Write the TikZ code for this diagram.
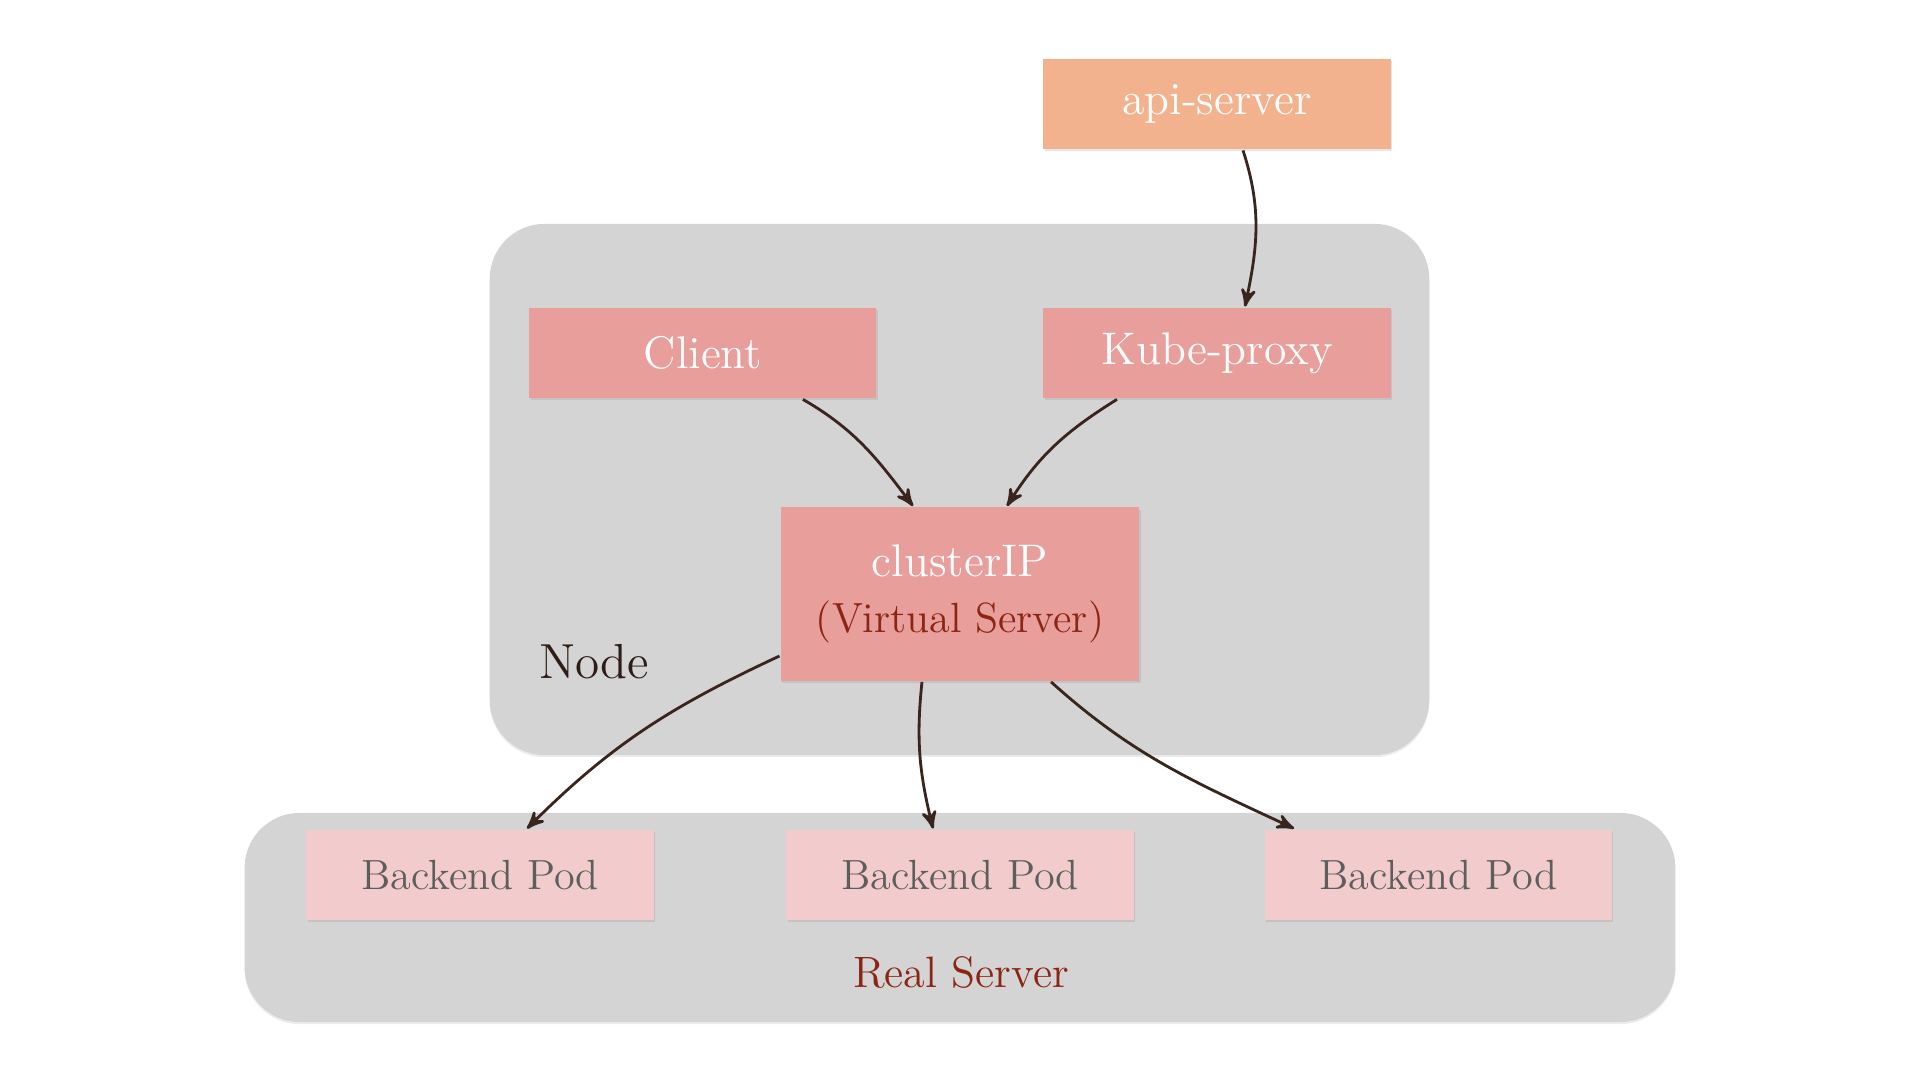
\documentclass[tikz,border=0pt]{standalone}
\usepackage{tikz}
\usetikzlibrary{arrows,positioning,shadows}

\definecolor{apifill}{HTML}{F2B28E}
\definecolor{boxfill}{HTML}{E89E9B}
\definecolor{podfill}{HTML}{F2CCCC}
\definecolor{areafill}{HTML}{D4D4D4}
\definecolor{arrowcol}{HTML}{3A241E}
\definecolor{darkred}{HTML}{8B2514}
\definecolor{podtext}{HTML}{5E5E5E}
\definecolor{labeltext}{HTML}{2E1D17}

\begin{document}
\begin{tikzpicture}[x=0.01cm,y=0.01cm,->,>=stealth',line width=0.8pt,color=arrowcol]
  \tikzstyle{area}=[draw=none,fill=areafill,rounded corners=0.55cm,drop shadow={shadow xshift=0pt,shadow yshift=-0.6pt,opacity=0.15}]
  \tikzstyle{box}=[draw=none,fill=boxfill,text=white,minimum width=3.47cm,minimum height=0.9cm,font=\fontsize{13}{15}\selectfont,drop shadow={shadow xshift=0.4pt,shadow yshift=-0.6pt,opacity=0.2}]
  \tikzstyle{apibox}=[box,fill=apifill]
  \tikzstyle{podbox}=[box,fill=podfill,text=podtext,font=\fontsize{12}{14}\selectfont]

  \useasboundingbox (0,0) rectangle (1920,1080);

  % grey areas
  \node[area,minimum width=9.39cm,minimum height=5.31cm] (nodearea) at (959.5,590.5) {};
  \node[area,minimum width=14.3cm,minimum height=2.09cm] (realarea) at (960,162.5) {};
  \node[text=labeltext,font=\fontsize{14}{16}\selectfont] (nodelabel) at (594,418) {Node};
  \node[text=darkred,font=\fontsize{12.5}{14}\selectfont] (reallabel) at (961,107) {Real Server};

  % boxes
  \node[apibox] (api) at (1217,976) {api-server};
  \node[box] (proxy) at (1217,727) {Kube-proxy};
  \node[box] (client) [left=1.64cm of proxy] {Client};
  \node[box,minimum width=3.58cm,minimum height=1.73cm,align=center] (cluster) at (960,486)
    {clusterIP\\[1pt]{\fontsize{12}{14}\selectfont\textcolor{darkred}{(Virtual Server)}}};
  \node[podbox] (pod1) at (480,205) {Backend Pod};
  \node[podbox] (pod2) [right=1.30cm of pod1] {Backend Pod};
  \node[podbox] (pod3) [right=1.28cm of pod2] {Backend Pod};

  \path ([xshift=0.26cm]api.south) edge [out=-72,in=78] ([xshift=0.28cm]proxy.north)
        ([xshift=1cm]client.south) edge [out=-30,in=127] ([xshift=-0.47cm]cluster.north)
        ([xshift=-1cm]proxy.south) edge [out=-148,in=58] ([xshift=0.47cm]cluster.north)
        ([yshift=-0.62cm]cluster.west) edge [out=205,in=45] ([xshift=0.47cm]pod1.north)
        ([xshift=-0.38cm]cluster.south) edge [out=-96,in=104] ([xshift=-0.27cm]pod2.north)
        ([xshift=0.91cm]cluster.south) edge [out=-42,in=155] ([xshift=-1.44cm]pod3.north);
\end{tikzpicture}
\end{document}
